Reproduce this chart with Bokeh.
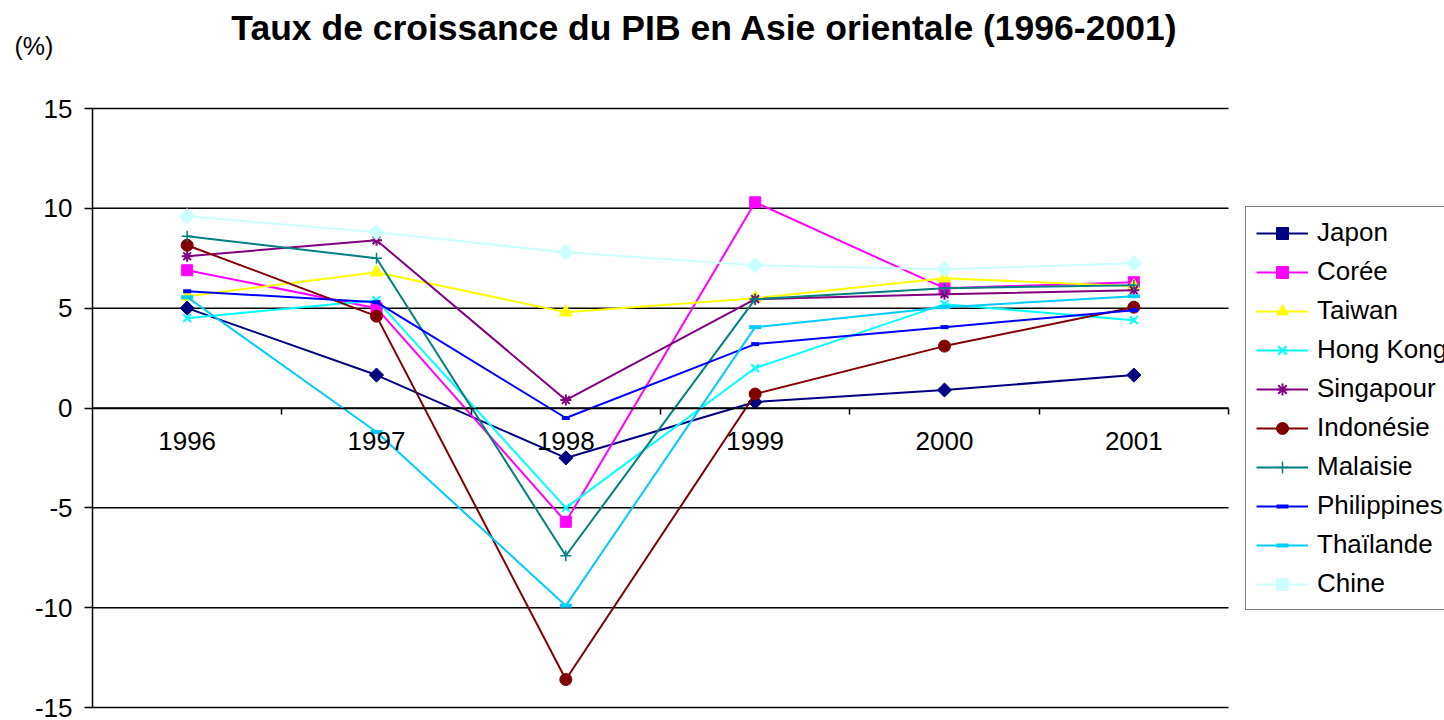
import math
from bokeh.plotting import figure
from bokeh.models import (Range1d, LinearAxis, FixedTicker, Legend, LegendItem,
                          ColumnDataSource, Label)
from bokeh.embed import file_html
from bokeh.resources import INLINE

years = ["1996", "1997", "1998", "1999", "2000", "2001"]
y_ticks = [-15, -10, -5, 0, 5, 10, 15]

japon = [5.0, 1.65, -2.5, 0.3, 0.9, 1.65]
coree = [6.9, 5.0, -5.7, 10.3, 6.0, 6.3]
taiwan = [5.6, 6.8, 4.8, 5.5, 6.5, 6.1]
hong_kong = [4.5, 5.4, -5.0, 2.0, 5.2, 4.4]
singapour = [7.6, 8.4, 0.4, 5.45, 5.7, 5.9]
indonesie = [8.15, 4.6, -13.6, 0.7, 3.1, 5.05]
malaisie = [8.6, 7.5, -7.4, 5.45, 6.0, 6.15]
philippines = [5.85, 5.3, -0.5, 3.2, 4.05, 4.9]
thailande = [5.55, -1.2, -9.9, 4.05, 5.05, 5.6]
chine = [9.6, 8.8, 7.8, 7.15, 6.95, 7.25]

# name, values, colour, marker, size, marker line width, angle
series = [
    ("Japon", japon, "#000080", "square", 10, 1, math.pi / 4),
    ("Corée", coree, "#FF00FF", "square", 11, 1, 0),
    ("Taiwan", taiwan, "#FFFF00", "triangle", 13, 1, 0),
    ("Hong Kong", hong_kong, "#00FFFF", "x", 11, 2, 0),
    ("Singapour", singapour, "#800080", "asterisk", 11, 2, 0),
    ("Indonésie", indonesie, "#800000", "circle", 12, 1, 0),
    ("Malaisie", malaisie, "#008080", "cross", 11, 1.5, 0),
    ("Philippines", philippines, "#0000FF", "dash", 8, 4, 0),
    ("Thaïlande", thailande, "#00CCFF", "dash", 12, 4, 0),
    ("Chine", chine, "#CCFFFF", "square", 11, 1, math.pi / 4),
]

FONT = "Liberation Sans"
W, H = 1444, 720
# frame spans the whole canvas; data box is placed inside it
PX_L, PX_R, PX_T, PX_B = 92, 1228, 108, 707
n = len(years)
ux = (PX_R - PX_L) / n
uy = (PX_B - PX_T) / 30.0
x_start = -PX_L / ux
x_end = n + (W - PX_R) / ux
y_end = 15 + PX_T / uy
y_start = -15 - (H - PX_B) / uy

xs = [i + 0.5 for i in range(n)]

p = figure(width=W, height=H, output_backend="svg", toolbar_location=None,
           title=None,
           x_range=Range1d(x_start, x_end), y_range=Range1d(y_start, y_end),
           x_axis_type=None, y_axis_type=None,
           min_border_left=0, min_border_right=0, min_border_top=0, min_border_bottom=0)
p.outline_line_color = None
p.background_fill_color = "white"
p.border_fill_color = "white"
p.xgrid.visible = False
p.ygrid.visible = False

# horizontal gridlines
p.segment(x0=[0] * len(y_ticks), x1=[n] * len(y_ticks), y0=y_ticks, y1=y_ticks,
          line_color="black", line_width=1.5)

# y axis at x = 0
yaxis = LinearAxis(ticker=FixedTicker(ticks=y_ticks),
                   major_label_overrides={t: str(t) for t in y_ticks})
yaxis.fixed_location = 0
yaxis.bounds = (y_ticks[0], y_ticks[-1])
yaxis.axis_line_color = "black"
yaxis.axis_line_width = 1.5
yaxis.major_tick_line_color = "black"
yaxis.major_tick_line_width = 1.5
yaxis.major_tick_out = 8
yaxis.major_tick_in = 0
yaxis.minor_tick_line_color = None
yaxis.major_label_standoff = 12
yaxis.major_label_text_font = FONT
yaxis.major_label_text_font_size = "26px"
yaxis.major_label_text_color = "black"
p.add_layout(yaxis, "left")

# x axis at y = 0: labels at category centres
xaxis = LinearAxis(ticker=FixedTicker(ticks=xs),
                   major_label_overrides={x: y for x, y in zip(xs, years)})
xaxis.fixed_location = 0
xaxis.bounds = (0, n)
xaxis.axis_line_color = "black"
xaxis.axis_line_width = 1.5
xaxis.major_tick_line_color = None
xaxis.major_tick_out = 0
xaxis.major_tick_in = 0
xaxis.minor_tick_line_color = None
xaxis.major_label_standoff = 24
xaxis.major_label_text_font = FONT
xaxis.major_label_text_font_size = "26px"
xaxis.major_label_text_color = "black"
p.add_layout(xaxis, "below")

# tick marks between categories
xticks = LinearAxis(ticker=FixedTicker(ticks=list(range(1, n + 1))))
xticks.fixed_location = 0
xticks.bounds = (0, n)
xticks.axis_line_color = None
xticks.major_tick_line_color = "black"
xticks.major_tick_line_width = 1.5
xticks.major_tick_out = 6
xticks.major_tick_in = 0
xticks.minor_tick_line_color = None
xticks.major_label_text_font_size = "0px"
xticks.major_label_text_color = None
p.add_layout(xticks, "below")

items = []
for name, vals, color, marker, size, lw, ang in series:
    src = ColumnDataSource(dict(x=xs, y=vals))
    r1 = p.line("x", "y", source=src, line_color=color, line_width=2)
    r2 = p.scatter("x", "y", source=src, marker=marker, size=size, angle=ang,
                   line_color=color, fill_color=color, line_width=lw)
    items.append(LegendItem(label=name, renderers=[r1, r2]))

legend = Legend(items=items, location=(1245, 110))
legend.label_text_font = FONT
legend.label_text_font_size = "26px"
legend.label_text_color = "black"
legend.glyph_width = 52
legend.glyph_height = 30
legend.label_height = 30
legend.spacing = 8
legend.padding = 10
legend.margin = 0
legend.label_standoff = 9
legend.border_line_color = "black"
legend.border_line_width = 1.5
legend.background_fill_alpha = 1
p.add_layout(legend, "center")

title = Label(x=709, y=H - 27, x_units="screen", y_units="screen",
              text="Taux de  croissance du PIB en Asie orientale (1996-2001)",
              text_font=FONT, text_font_size="35.5px", text_font_style="bold",
              text_align="center", text_baseline="middle", text_color="black")
p.add_layout(title)

unit = Label(x=14, y=H - 45, x_units="screen", y_units="screen", text="(%)",
             text_font=FONT, text_font_size="25px", text_align="left",
             text_baseline="middle", text_color="black")
p.add_layout(unit)

open("out.html", "w").write(file_html(p, INLINE))
